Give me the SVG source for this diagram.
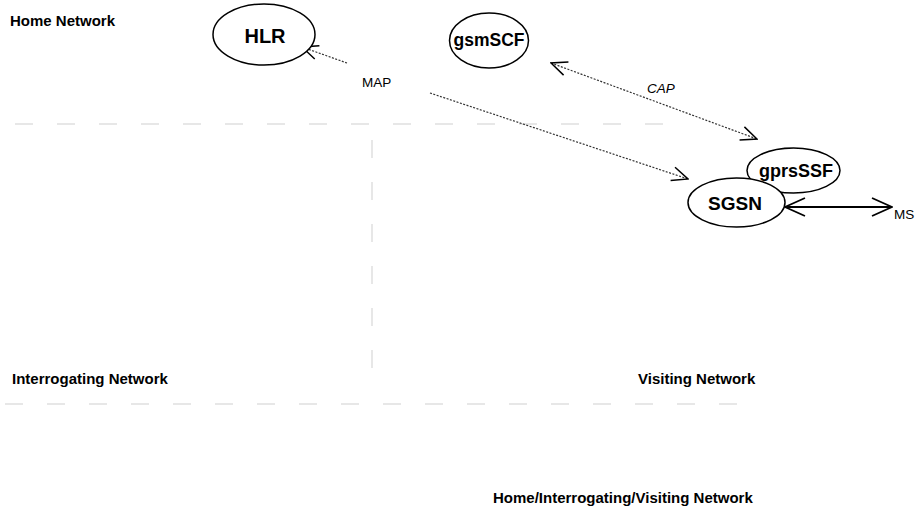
<svg xmlns="http://www.w3.org/2000/svg" width="915" height="508" viewBox="0 0 915 508">
<style>
.bg{fill:#fff}
.node{fill:#fff;stroke:#000;stroke-width:1.5}
.ntxt{font-family:"Liberation Sans",Arial,sans-serif;font-weight:bold;fill:#000;text-anchor:middle}
.lbl{font-family:"Liberation Sans",Arial,sans-serif;font-weight:bold;font-size:15px;fill:#000}
.small{font-family:"Liberation Sans",Arial,sans-serif;font-size:13.5px;fill:#000}
.bound{stroke:#cfcfcf;stroke-width:1;stroke-dasharray:18 24;fill:none}
.dot{stroke:#333;stroke-width:1.2;stroke-dasharray:2 1.5;fill:none}
.solid{stroke:#000;stroke-width:1.8;fill:none}
</style>
<defs>
<marker id="ah" viewBox="0 0 18 16" refX="17" refY="8" markerWidth="18" markerHeight="16" markerUnits="userSpaceOnUse" orient="auto-start-reverse">
<path d="M1,1 L17,8 L1,15" fill="none" stroke="#000" stroke-width="1.5"/>
</marker>
<marker id="ah2" viewBox="0 0 22 20" refX="21" refY="10" markerWidth="22" markerHeight="20" markerUnits="userSpaceOnUse" orient="auto-start-reverse">
<path d="M1,1 L21,10 L1,19" fill="none" stroke="#000" stroke-width="1.8"/>
</marker>
</defs>
<rect class="bg" x="0" y="0" width="915" height="508"/>
<g id="boundaries">
<line class="bound" x1="15" y1="124" x2="665" y2="124"/>
<line class="bound" x1="5" y1="404" x2="755" y2="404"/>
<line class="bound" x1="372" y1="140" x2="372" y2="392"/>
</g>
<g id="labels">
<text class="lbl" x="10" y="26">Home Network</text>
<text class="lbl" x="12" y="384">Interrogating Network</text>
<text class="lbl" x="638" y="384">Visiting Network</text>
<text class="lbl" x="493" y="503">Home/Interrogating/Visiting Network</text>
</g>
<g id="connectors">
<line class="dot" x1="347" y1="63" x2="302" y2="47" marker-end="url(#ah)"/>
<line class="dot" x1="430" y1="93" x2="688" y2="179" marker-end="url(#ah)"/>
<line class="dot" x1="551" y1="63" x2="757" y2="139" marker-start="url(#ah)" marker-end="url(#ah)"/>
<line class="solid" x1="785" y1="207" x2="892" y2="207" marker-start="url(#ah2)" marker-end="url(#ah2)"/>
<text class="small" x="362" y="87">MAP</text>
<text class="small" x="647" y="93" font-style="italic" font-size="14">CAP</text>
<text class="small" x="894" y="219" font-size="13">MS</text>
</g>
<g id="HLR">
<ellipse class="node" cx="264" cy="34.5" rx="51" ry="30.5"/>
<text class="ntxt" x="265" y="43" font-size="20">HLR</text>
</g>
<g id="gsmSCF">
<ellipse class="node" cx="489" cy="40.5" rx="39.5" ry="27.5"/>
<text class="ntxt" x="489" y="46" font-size="17.5">gsmSCF</text>
</g>
<g id="gprsSSF">
<ellipse class="node" cx="793.5" cy="170.5" rx="46.5" ry="22.5"/>
<text class="ntxt" x="796" y="177" font-size="18">gprsSSF</text>
</g>
<g id="SGSN">
<ellipse class="node" cx="736.5" cy="202.5" rx="48.5" ry="24.5"/>
<text class="ntxt" x="735" y="210" font-size="19">SGSN</text>
</g>
</svg>
